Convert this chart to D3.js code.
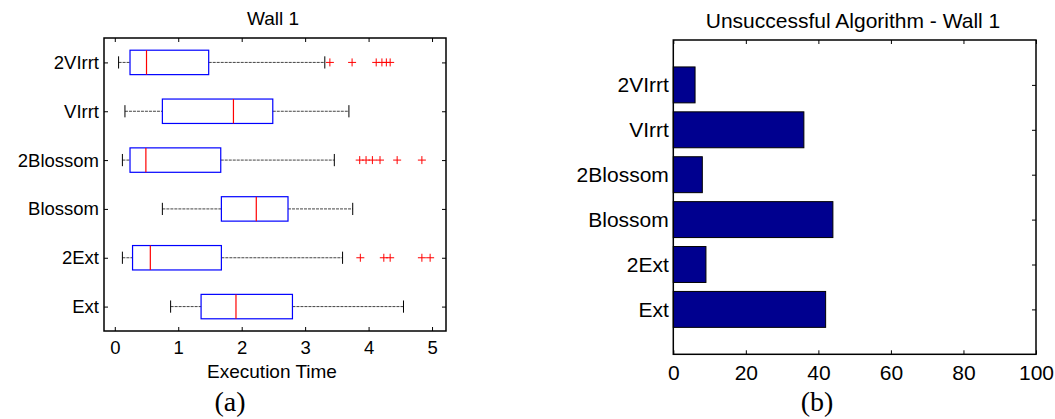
<!DOCTYPE html>
<html>
<head>
<meta charset="utf-8">
<script src="https://cdn.jsdelivr.net/npm/d3@7"></script>
<style>
body { margin: 0; background: #fff; }
svg { display: block; }
text { font-family: "Liberation Sans", Arial, sans-serif; fill: #000; }
</style>
</head>
<body>
<svg width="1055" height="419"></svg>
<script>
// categories, bottom to top
var categories = ["Ext", "2Ext", "Blossom", "2Blossom", "VIrrt", "2VIrrt"];

// (a) box plot stats of execution time
var whiskerLow  = [0.88, 0.12, 0.75, 0.12, 0.16, 0.06];
var quart1      = [1.36, 0.28, 1.68, 0.24, 0.75, 0.24];
var medians     = [1.91, 0.56, 2.23, 0.49, 1.87, 0.50];
var quart3      = [2.80, 1.68, 2.73, 1.67, 2.49, 1.48];
var whiskerHigh = [4.55, 3.59, 3.75, 3.46, 3.69, 3.31];
var outliers = [
    [],
    [3.87, 4.24, 4.34, 4.84, 4.97],
    [],
    [3.86, 3.96, 4.06, 4.18, 4.45, 4.84],
    [],
    [3.39, 3.74, 4.12, 4.21, 4.28, 4.34]
];
var timeTicks = [0, 1, 2, 3, 4, 5];

// (b) unsuccessful counts
var unsuccessful = [42, 9, 44, 8, 36, 6];
var countTicks = [0, 20, 40, 60, 80, 100];

var svg = d3.select("svg");
var sans = "Liberation Sans, Arial, sans-serif";
var serif = "Liberation Serif, Times New Roman, serif";

// ---------- panel (a) ----------
var ax = { left: 104, right: 446, top: 38, bottom: 331 };
var xA = d3.scaleLinear().domain([-0.17, 5.22]).range([ax.left, ax.right]);
var yA = d3.scalePoint().domain(categories.slice().reverse())
    .range([ax.top, ax.bottom]).padding(0.5);
var halfBox = yA.step() / 4;

var gA = svg.append("g");

gA.append("g").attr("transform", "translate(0," + ax.bottom + ")")
    .call(d3.axisBottom(xA).tickValues(timeTicks).tickFormat(d3.format("d"))
        .tickSizeInner(-4).tickSizeOuter(0).tickPadding(10));
gA.append("g").attr("transform", "translate(0," + ax.top + ")")
    .call(d3.axisTop(xA).tickValues(timeTicks).tickSizeInner(-4).tickSizeOuter(0).tickFormat(""));
gA.append("g").attr("transform", "translate(" + ax.left + ",0)")
    .call(d3.axisLeft(yA).tickSizeInner(-4).tickSizeOuter(0).tickPadding(5));
gA.append("g").attr("transform", "translate(" + ax.right + ",0)")
    .call(d3.axisRight(yA).tickSizeInner(-4).tickSizeOuter(0).tickFormat(""));

gA.selectAll(".domain").remove();
gA.selectAll(".tick line").attr("stroke", "#000");
gA.selectAll(".tick text").attr("font-size", 18.5).attr("font-family", sans);

gA.append("rect")
    .attr("x", ax.left).attr("y", ax.top)
    .attr("width", ax.right - ax.left).attr("height", ax.bottom - ax.top)
    .attr("fill", "none").attr("stroke", "#000").attr("stroke-width", 1.5);

var boxes = gA.selectAll(".box").data(categories).enter().append("g");

boxes.each(function(c, i) {
    var g = d3.select(this);
    var cy = yA(c);
    // whiskers
    g.append("line").attr("x1", xA(whiskerLow[i])).attr("x2", xA(quart1[i]))
        .attr("y1", cy).attr("y2", cy).attr("stroke", "#444").attr("stroke-dasharray", "3,1");
    g.append("line").attr("x1", xA(quart3[i])).attr("x2", xA(whiskerHigh[i]))
        .attr("y1", cy).attr("y2", cy).attr("stroke", "#444").attr("stroke-dasharray", "3,1");
    [whiskerLow[i], whiskerHigh[i]].forEach(function(v) {
        g.append("line").attr("x1", xA(v)).attr("x2", xA(v))
            .attr("y1", cy - halfBox / 2).attr("y2", cy + halfBox / 2).attr("stroke", "#000");
    });
    // box
    g.append("rect").attr("x", xA(quart1[i])).attr("y", cy - halfBox)
        .attr("width", xA(quart3[i]) - xA(quart1[i])).attr("height", halfBox * 2)
        .attr("fill", "none").attr("stroke", "#0000ff").attr("stroke-width", 1.2);
    // median
    g.append("line").attr("x1", xA(medians[i])).attr("x2", xA(medians[i]))
        .attr("y1", cy - halfBox).attr("y2", cy + halfBox)
        .attr("stroke", "#ff0000").attr("stroke-width", 1.2);
    // outliers
    g.selectAll(".out").data(outliers[i]).enter().append("path")
        .attr("d", function(v) {
            var px = xA(v);
            return "M" + (px - 4) + "," + cy + "H" + (px + 4) + "M" + px + "," + (cy - 4) + "V" + (cy + 4);
        })
        .attr("stroke", "#ff0000").attr("fill", "none");
});

gA.append("text").attr("x", 273).attr("y", 25).attr("text-anchor", "middle")
    .attr("font-size", 19).text("Wall 1");
gA.append("text").attr("x", 272).attr("y", 378).attr("text-anchor", "middle")
    .attr("font-size", 19).text("Execution Time");
gA.append("text").attr("x", 230).attr("y", 411).attr("text-anchor", "middle")
    .attr("font-size", 28).style("font-family", serif).text("(a)");

// ---------- panel (b) ----------
var bx = { left: 673.3, right: 1036, top: 40, bottom: 354.3 };
var xB = d3.scaleLinear().domain([0, 100]).range([bx.left, bx.right]);
var yB = d3.scaleLinear().domain([0, categories.length + 1]).range([bx.bottom, bx.top]);
var catIdx = categories.map(function(c, i) { return i + 1; });

var gB = svg.append("g");

gB.append("g").attr("transform", "translate(0," + bx.bottom + ")")
    .call(d3.axisBottom(xB).tickValues(countTicks).tickFormat(d3.format("d"))
        .tickSizeInner(-4).tickSizeOuter(0).tickPadding(10.5));
gB.append("g").attr("transform", "translate(0," + bx.top + ")")
    .call(d3.axisTop(xB).tickValues(countTicks).tickSizeInner(-4).tickSizeOuter(0).tickFormat(""));
gB.append("g").attr("transform", "translate(" + bx.right + ",0)")
    .call(d3.axisRight(yB).tickValues(catIdx).tickSizeInner(-4).tickSizeOuter(0).tickFormat(""));

gB.selectAll(".domain").remove();
gB.selectAll(".tick line").attr("stroke", "#000");
gB.selectAll(".tick text").attr("font-size", 21).attr("font-family", sans);

gB.selectAll(".bar").data(categories).enter().append("rect")
    .attr("x", xB(0))
    .attr("y", function(c, i) { return yB(i + 1 + 0.4); })
    .attr("width", function(c, i) { return xB(unsuccessful[i]) - xB(0); })
    .attr("height", function(c, i) { return yB(i + 1 - 0.4) - yB(i + 1 + 0.4); })
    .attr("fill", "#00008f").attr("stroke", "#000");

gB.append("g").attr("transform", "translate(" + bx.left + ",0)")
    .call(d3.axisLeft(yB).tickValues(catIdx).tickSizeInner(0).tickSizeOuter(0).tickPadding(4.5)
        .tickFormat(function(d) { return categories[d - 1]; }))
    .call(function(g) { g.select(".domain").remove(); })
    .selectAll("text").attr("font-size", 21).attr("font-family", sans);

gB.append("rect")
    .attr("x", bx.left).attr("y", bx.top)
    .attr("width", bx.right - bx.left).attr("height", bx.bottom - bx.top)
    .attr("fill", "none").attr("stroke", "#000").attr("stroke-width", 1.5);

gB.append("text").attr("x", 853).attr("y", 28).attr("text-anchor", "middle")
    .attr("font-size", 21).text("Unsuccessful Algorithm - Wall 1");
gB.append("text").attr("x", 817).attr("y", 411).attr("text-anchor", "middle")
    .attr("font-size", 28).style("font-family", serif).text("(b)");
</script>
</body>
</html>
